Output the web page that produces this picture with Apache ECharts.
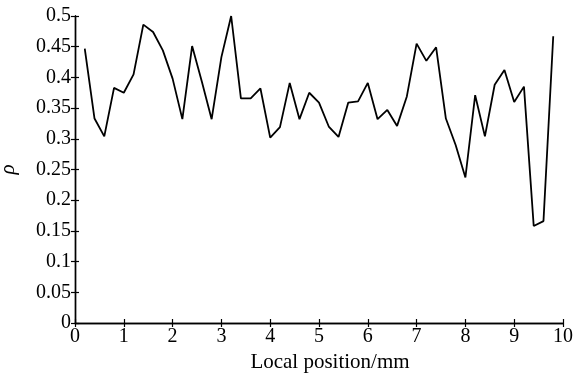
<!DOCTYPE html>
<html>
<head>
<meta charset="utf-8">
<script src="https://cdn.jsdelivr.net/npm/echarts@6/dist/echarts.min.js"></script>
<style>
html,body{margin:0;padding:0;background:#fff;}
#c{width:578px;height:378px;}
</style>
</head>
<body>
<div id="c"></div>
<script>
var positions = [0.2,0.4,0.6,0.8,1.0,1.2,1.4,1.6,1.8,2.0,2.2,2.4,2.6,2.8,3.0,3.2,3.4,3.6,3.8,4.0,4.2,4.4,4.6,4.8,5.0,5.2,5.4,5.6,5.8,6.0,6.2,6.4,6.6,6.8,7.0,7.2,7.4,7.6,7.8,8.0,8.2,8.4,8.6,8.8,9.0,9.2,9.4,9.6,9.8];
var rho = [0.447,0.333,0.304,0.383,0.375,0.405,0.486,0.474,0.444,0.398,0.332,0.451,0.393,0.332,0.433,0.500,0.366,0.366,0.382,0.302,0.319,0.391,0.332,0.375,0.359,0.320,0.303,0.359,0.361,0.391,0.332,0.347,0.321,0.369,0.455,0.427,0.449,0.333,0.290,0.237,0.371,0.304,0.388,0.412,0.360,0.385,0.158,0.166,0.467];
var xTicks = [0,1,2,3,4,5,6,7,8,9,10];
var yTicks = [0,0.05,0.1,0.15,0.2,0.25,0.3,0.35,0.4,0.45,0.5];

var data = positions.map(function(x,i){return [x, rho[i]];});
var font = 'Liberation Serif';
var chart = echarts.init(document.getElementById('c'), null, {renderer:'canvas'});
var axLine = {show:true, lineStyle:{color:'#000', width:1.4}};
var tick = {show:true, inside:true, length:4, lineStyle:{color:'#000', width:1.2}};
chart.setOption({
  animation:false,
  backgroundColor:'#fff',
  grid:{left:75, right:15, top:16, bottom:55, containLabel:false, outerBoundsMode:'none'},
  xAxis:[{
    type:'value', min:xTicks[0], max:xTicks[xTicks.length-1], interval:1,
    name:'Local position/mm', nameLocation:'middle', nameGap:27,
    nameTextStyle:{fontFamily:font, fontSize:21, color:'#000', padding:[0,0,0,22]},
    axisLine:axLine, axisTick:tick, splitLine:{show:false},
    axisLabel:{fontFamily:font, fontSize:20, color:'#000', margin:4}
  },{
    type:'value', position:'top', min:xTicks[0], max:xTicks[xTicks.length-1], interval:1,
    axisLine:axLine, axisTick:tick, splitLine:{show:false}, axisLabel:{show:false}
  }],
  yAxis:[{
    type:'value', min:yTicks[0], max:yTicks[yTicks.length-1], interval:0.05,
    name:'ρ', nameLocation:'middle', nameGap:56, nameRotate:90,
    nameTextStyle:{fontFamily:font, fontSize:21, fontStyle:'italic', color:'#000'},
    axisLine:axLine, axisTick:tick, splitLine:{show:false},
    axisLabel:{fontFamily:font, fontSize:20, color:'#000', margin:4,
      formatter:function(v){return String(+v.toFixed(2));}}
  },{
    type:'value', position:'right', min:yTicks[0], max:yTicks[yTicks.length-1], interval:0.05,
    axisLine:axLine, axisTick:tick, splitLine:{show:false}, axisLabel:{show:false}
  }],
  series:[{
    type:'line', data:data, xAxisIndex:0, yAxisIndex:0,
    showSymbol:false, symbol:'none',
    lineStyle:{color:'#000', width:1.8}
  }]
});
</script>
</body>
</html>
